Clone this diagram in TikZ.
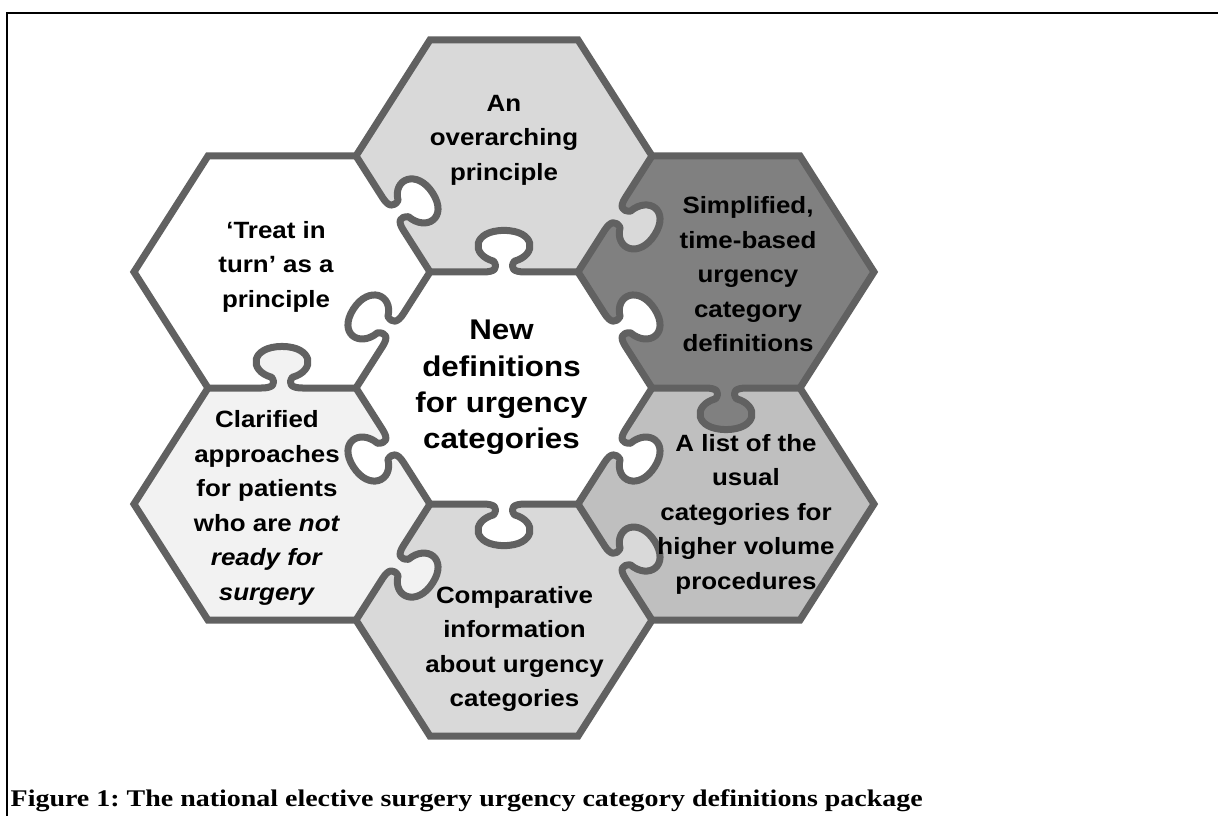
\documentclass[tikz,border=0pt]{standalone}
\usepackage{fontspec}
\newfontfamily\hexfont{Liberation Sans}[FakeStretch=1.1]
\newfontfamily\figcapfont{Liberation Serif}[FakeStretch=1.17]

\definecolor{piece-line}{gray}{0.38}
\definecolor{piece-light}{gray}{0.85}
\definecolor{piece-dark}{gray}{0.5}
\definecolor{piece-mid}{gray}{0.75}
\definecolor{piece-pale}{gray}{0.95}

% jigsaw tab on an edge running from (0,0) to (1,0), bulging towards +y
\newcommand{\tabpath}{.. controls (0.44,0) and (0.46,0.03) .. (0.43,0.08)
  .. controls (0.27,0.13) and (0.29,0.31) .. (0.5,0.31)
  .. controls (0.71,0.31) and (0.73,0.13) .. (0.57,0.08)
  .. controls (0.54,0.03) and (0.56,0) .. (0.64,0)}

\begin{document}
\begin{tikzpicture}[
    piece-edge/.style={draw=piece-line, line width=0.7mm, line join=round, line cap=round},
    ring-edge/.style={draw=piece-line, line width=0.7mm, line join=miter},
    hex-txt/.style={font=\hexfont\bfseries\fontsize{6.7}{9.8}\selectfont, align=center},
    mid-txt/.style={font=\hexfont\bfseries\fontsize{8.1}{10.3}\selectfont, align=center},
    cap-txt/.style={font=\figcapfont\bfseries\fontsize{6.8}{8}\selectfont\frenchspacing, inner sep=0pt}
  ]
\useasboundingbox (-5.04,-4.28) rectangle (7.14,3.88);

% Frame
\draw[line width=0.2mm] (7.14,3.75) -- (-4.97,3.75) -- (-4.97,-4.28);

\begin{scope}[xscale=1.48, yscale=1.34]
% Pieces
\fill[white] (0:1) -- (60:1) -- (120:1) -- (180:1) -- (240:1) -- (300:1) -- cycle;
\foreach \d/\col in {30/piece-dark, 90/piece-light, 150/white, 210/piece-pale, 270/piece-light, 330/piece-mid}
    \fill[\col] (\d:1.7321) +(0:1) -- +(60:1) -- +(120:1) -- +(180:1) -- +(240:1) -- +(300:1) -- cycle;

% Tabs of the middle piece
\foreach \d in {30,90,...,330}
    \fill[white, shift={(\d-30:1)}, rotate=\d+90, yscale=-1]
        (0.64,-0.03) -- (0.36,-0.03) -- (0.36,0) \tabpath -- cycle;

% Tabs between outer pieces
\foreach \a/\s/\col in {0/-1/piece-dark, 60/-1/piece-light, 120/-1/white, 180/-1/piece-pale, 240/1/piece-pale, 300/1/piece-light}
    \fill[\col, shift={(\a:1)}, rotate=\a, yscale=\s]
        (0.64,-0.03) -- (0.36,-0.03) -- (0.36,0) \tabpath -- cycle;

% Outer outline
\draw[ring-edge] (2,0) \foreach \d in {30,90,...,330} {
    -- ({1.7321*cos(\d)+cos(\d-90)}, {1.7321*sin(\d)+sin(\d-90)})
    -- ({1.7321*cos(\d)+cos(\d-30)}, {1.7321*sin(\d)+sin(\d-30)})
    -- ({1.7321*cos(\d)+cos(\d+30)}, {1.7321*sin(\d)+sin(\d+30)}) } -- cycle;

% Inner edges
\foreach \d in {30,90,...,330}
    \draw[piece-edge, shift={(\d-30:1)}, rotate=\d+90, yscale=-1] (0,0) -- (0.36,0) \tabpath -- (1,0);
\foreach \a/\s in {0/-1, 60/-1, 120/-1, 180/-1, 240/1, 300/1}
    \draw[piece-edge, shift={(\a:1)}, rotate=\a, yscale=\s] (0,0) -- (0.36,0) \tabpath -- (1,0);
\end{scope}

% Labels
\node[hex-txt] (ovr) at (0,2.48) {An\\overarching\\principle};
\node[hex-txt] (tit) at (-2.28,1.214) {‘Treat in\\turn’ as a\\principle};
\node[hex-txt] (sim) at (2.44,1.138) {Simplified,\\time-based\\urgency\\category\\definitions};
\node[hex-txt] (lst) at (2.42,-1.261) {A list of the\\usual\\categories for\\higher volume\\procedures};
\node[hex-txt] (cla) at (-2.37,-1.20) {Clarified\\approaches\\for patients\\who are \textit{not}\\\textit{ready for}\\\textit{surgery}};
\node[hex-txt] (cmp) at (0.105,-2.611) {Comparative\\information\\about urgency\\categories};
\node[mid-txt] (new) at (-0.025,0.005) {New\\definitions\\for urgency\\categories};

\node[cap-txt, anchor=base west] (cap) at (-4.94,-4.187)
    {Figure 1: The national elective surgery urgency category definitions package};

\end{tikzpicture}
\end{document}
